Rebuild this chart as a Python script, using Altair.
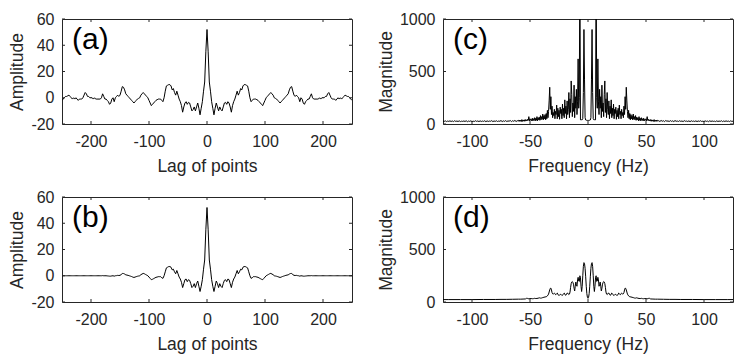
import altair as alt
import pandas as pd

# ---------------- data ----------------
# (a) raw autocorrelation, lags 0..250 step 2 (curve is symmetric about 0)
lag_half = list(range(0, 252, 2))
acf_raw_half = [
    52, 35, 12, 5, -3, -8, -13, -8, -4, -7,
    -10, -7, -9, -10, -7, -4, -3.5, -5, -3, -4,
    -7, -11, -6, -3, -1, 2, 5, 2, 4, 7,
    6, 9, 10, 10, 9.5, 9, 5, 0, -3, -2,
    -1, -1, -1, -1.5, -2, -3, -4, -5, -6, -4,
    -2, 0, 1, 2, 3, 4, 3, 2, 0, -0.5,
    -1, -2, -3, -4, -3, -2, -1, 0, 1, 2,
    3, 6, 8, 8.5, 5, 2, 1, 2, 1, 0,
    -3, 0, -1, -4, -5, -3, -2, -1, -1, 1,
    3, 0, -1, -1, -1, -1, -1, 0, -1, 0,
    0, 0, 1, 1, 3, 4, 2, 0, -1, -1,
    -1, -2, -1, 0, -1, 0, -1, 0, 1, 2,
    1.5, 1, 1, 0, -1, -2,
]
# (b) windowed autocorrelation, same lags
acf_win_half = [
    52, 35, 12, 5, -3, -8, -12, -8, -4, -6,
    -9, -6, -8, -9, -6, -3.5, -3, -4.5, -2.5, -3,
    -6, -9, -5, -2.5, -1, 1.5, 4, 1.5, 3, 5,
    4.5, 6.5, 7, 7, 6.5, 6, 3, 0, -2, -1.5,
    -0.7, -0.7, -0.7, -1, -1.2, -1.7, -2.2, -2.7, -3, -2,
    -1, 0, 0.5, 1, 1.5, 1.8, 1.3, 0.8, 0, -0.2,
    -0.4, -0.7, -1, -1.3, -1, -0.6, -0.3, 0, 0.3, 0.5,
    0.7, 1.3, 1.7, 1.7, 0.9, 0.3, 0.2, 0.3, 0.1, 0,
    -0.3, 0, -0.1, -0.3, -0.3, -0.2, -0.1, 0, 0, 0,
    0.1, 0, 0, 0, 0, 0, 0, 0, 0, 0,
    0, 0, 0, 0, 0, 0, 0, 0, 0, 0,
    0, 0, 0, 0, 0, 0, 0, 0, 0, 0,
    0, 0, 0, 0, 0, 0,
]

# (c) magnitude spectrum of (a), 0..60 Hz step 0.5 then 61..125 Hz step 1 (symmetric)
freq_c_half = [i * 0.5 for i in range(121)] + list(range(61, 126))
mag_c_half = [
    35, 34, 36, 35, 38, 60, 420, 900, 300, 50,
    40, 38, 45, 40, 1600, 250, 150, 620, 210, 90,
    330, 150, 260, 60, 370, 120, 200, 70, 280, 410,
    110, 240, 60, 300, 140, 90, 220, 50, 170, 100,
    230, 60, 150, 80, 190, 50, 140, 100, 160, 45,
    130, 70, 150, 50, 180, 90, 120, 50, 140, 80,
    110, 60, 170, 90, 260, 140, 350, 220, 120, 60,
    130, 50, 100, 40, 90, 50, 80, 40, 95, 45,
    70, 40, 80, 35, 65, 40, 60, 30, 70, 35,
    55, 30, 60, 35, 50, 30, 55, 30, 45, 35,
    50, 30, 70, 35, 45, 30, 40, 28, 42, 26,
    40, 27, 38, 25, 42, 24, 36, 26, 38, 25,
    35,
    30, 24, 34, 26, 31, 23, 33, 27, 29, 24,
    32, 25, 30, 23, 33, 26, 28, 24, 31, 25,
    29, 23, 32, 26, 28, 24, 30, 22, 31, 25,
    28, 24, 30, 23, 29, 25, 31, 24, 27, 23,
    30, 25, 28, 22, 31, 24, 29, 25, 27, 23,
    30, 24, 28, 25, 31, 23, 29, 24, 30, 25,
    28, 23, 30, 25, 27,
]

# (d) magnitude spectrum of (b) (symmetric)
freq_d_half = ([i * 0.5 for i in range(69)] + list(range(35, 55))
               + [56, 58, 60, 65, 70, 75, 80, 90, 100, 110, 120, 125])
mag_d_half = [
    35, 45, 80, 150, 240, 320, 365, 375, 340, 250,
    150, 100, 150, 230, 250, 195, 200, 235, 210, 150,
    165, 190, 150, 105, 130, 170, 185, 195, 190, 175,
    140, 95, 75, 70, 75, 85, 85, 75, 65, 65,
    75, 85, 80, 70, 65, 62, 68, 75, 72, 65,
    60, 65, 75, 85, 80, 72, 70, 78, 85, 80,
    75, 78, 90, 115, 132, 130, 115, 95, 75,
    58, 50, 48, 45, 42, 38, 37, 40, 36, 34,
    33, 35, 32, 31, 33, 32, 30, 34, 35, 29,
    28, 27, 27, 26, 25, 25, 24, 24, 23, 23, 23, 23,
]

lag_ticks = [-200, -100, 0, 100, 200]
amp_ticks = [-20, 0, 20, 40, 60]
freq_ticks = [-100, -50, 0, 50, 100]
mag_ticks = [0, 500, 1000]

# ---------------- styling ----------------
FONT = "Liberation Sans"
INK = "#262626"
W, H = 290, 105
TICK = 3


def mirror(xs, ys):
    x_full = [-x for x in reversed(xs[1:])] + list(xs)
    y_full = list(reversed(ys[1:])) + list(ys)
    return x_full, y_full


def panel(xs, ys, xdom, ydom, xticks, yticks, xtitle, ytitle, tag):
    xf, yf = mirror(xs, ys)
    df = pd.DataFrame({"x": xf, "y": yf})
    xsc = alt.Scale(domain=xdom, nice=False, zero=False)
    ysc = alt.Scale(domain=ydom, nice=False, zero=False)
    lab = "datum.value + ''"
    xax = alt.Axis(values=xticks, title=xtitle, labelExpr=lab)
    yax = alt.Axis(values=yticks, title=ytitle, labelExpr=lab)
    line = alt.Chart(df).mark_line(color="black", strokeWidth=1, clip=True).encode(
        x=alt.X("x:Q", scale=xsc, axis=xax),
        y=alt.Y("y:Q", scale=ysc, axis=yax),
    )
    xt = pd.DataFrame({"x": xticks})
    yt = pd.DataFrame({"y": yticks})
    rule = dict(color=INK, strokeWidth=1)
    bt = alt.Chart(xt).mark_rule(**rule).encode(
        x=alt.X("x:Q", scale=xsc, axis=xax), y=alt.value(H), y2=alt.value(H - TICK))
    tt = alt.Chart(xt).mark_rule(**rule).encode(
        x=alt.X("x:Q", scale=xsc, axis=xax), y=alt.value(0), y2=alt.value(TICK))
    lt = alt.Chart(yt).mark_rule(**rule).encode(
        y=alt.Y("y:Q", scale=ysc, axis=yax), x=alt.value(0), x2=alt.value(TICK))
    rt = alt.Chart(yt).mark_rule(**rule).encode(
        y=alt.Y("y:Q", scale=ysc, axis=yax), x=alt.value(W), x2=alt.value(W - TICK))
    txt = alt.Chart(pd.DataFrame({"s": [tag]})).mark_text(
        align="left", baseline="alphabetic", font=FONT, fontSize=30, color="black"
    ).encode(text="s:N", x=alt.value(10), y=alt.value(30))
    return alt.layer(line, bt, tt, lt, rt, txt).properties(width=W, height=H)


pa = panel(lag_half, acf_raw_half, [-250, 250], [-20, 60], lag_ticks, amp_ticks,
           "Lag of points", "Amplitude", "(a)")
pb = panel(lag_half, acf_win_half, [-250, 250], [-20, 60], lag_ticks, amp_ticks,
           "Lag of points", "Amplitude", "(b)")
pc = panel(freq_c_half, mag_c_half, [-125, 125], [0, 1000], freq_ticks, mag_ticks,
           "Frequency (Hz)", "Magnitude", "(c)")
pdd = panel(freq_d_half, mag_d_half, [-125, 125], [0, 1000], freq_ticks, mag_ticks,
            "Frequency (Hz)", "Magnitude", "(d)")

chart = alt.concat(
    pa, pc, pb, pdd, columns=2, spacing={"row": 73, "column": 91}, bounds="flush"
).properties(
    padding={"left": 0, "top": 2, "right": 5, "bottom": 5}, background="white"
).configure_view(
    stroke=INK, strokeWidth=1
).configure_axis(
    domain=False, ticks=False, grid=False,
    labelFont=FONT, labelFontSize=16, labelColor=INK,
    labelFlush=False, labelOverlap=False,
    titleFont=FONT, titleFontSize=17.5, titleFontWeight="normal", titleColor=INK,
).configure_axisX(
    labelPadding=9, titlePadding=8
).configure_axisY(
    labelPadding=8, titlePadding=4
)

chart.save("out.html", embed_options={"renderer": "svg", "actions": False})
